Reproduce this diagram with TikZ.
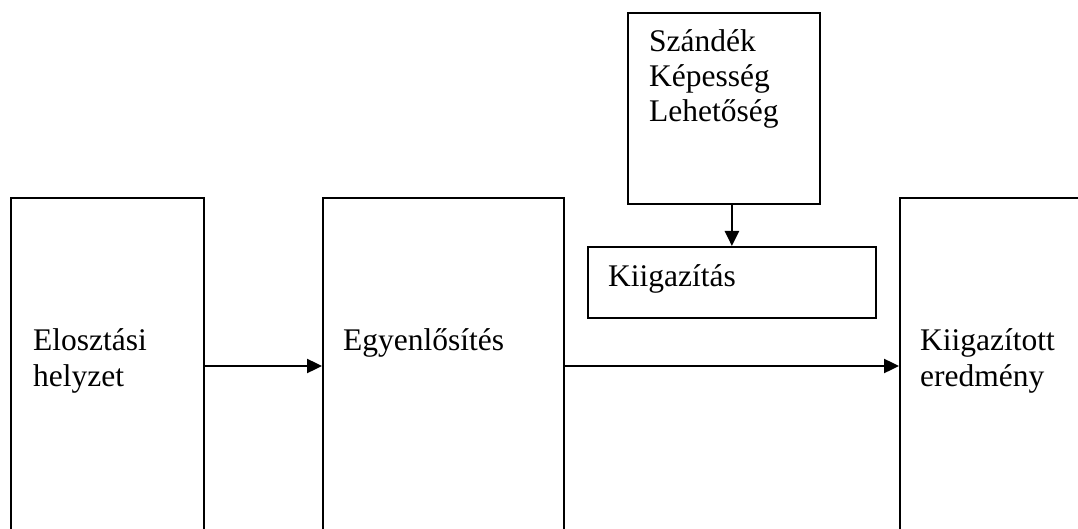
\documentclass[tikz,border=0pt]{standalone}
\usepackage{fontspec}
\setmainfont{Liberation Serif}
\usetikzlibrary{arrows.meta}
\tikzset{
  box/.style={draw=black, line width=1.8pt, inner sep=0pt, anchor=north west},
  lbl/.style={inner sep=0pt, anchor=base west, font=\fontsize{31.5}{35}\selectfont},
  arr/.style={line width=2.4pt, -{Triangle[length=15pt,width=14pt]}}
}
\begin{document}
\begin{tikzpicture}[x=1pt,y=-1pt]
\useasboundingbox (0,0) rectangle (1078,529);
\clip (0,0) rectangle (1078,529);
% boxes
\node[box, minimum width=193pt, minimum height=363pt] (b1) at (10,197) {};
\node[box, minimum width=241pt, minimum height=363pt] (b2) at (322,197) {};
\node[box, minimum width=200pt, minimum height=363pt] (b5) at (899,197) {};
\node[box, minimum width=192pt, minimum height=191pt] (top) at (627,12) {};
\node[box, minimum width=288pt, minimum height=71pt] (kiig) at (587,246) {};
% texts
\node[lbl] (t1a) at (33,350) {Elosztási};
\node[lbl] (t1b) at (33,386) {helyzet};
\node[lbl] (t2) at (343,350) {Egyenlősítés};
\node[lbl] (t5a) at (920,350) {Kiigazított};
\node[lbl] (t5b) at (920,386) {eredmény};
\node[lbl] (tta) at (649,52) {Szándék};
\node[lbl] (ttb) at (649,87) {Képesség};
\node[lbl] (ttc) at (649,122) {Lehetőség};
\node[lbl] (tk) at (608,287) {Kiigazítás};
% connectors
\coordinate (a1) at (b1.east |- 0,366);
\draw[arr] (a1) -- (a1 -| b2.west);
\coordinate (a2) at (b2.east |- 0,366);
\draw[arr] (a2) -- (a2 -| b5.west);
\draw[arr] (top.south -| kiig.north) -- (kiig.north);
\end{tikzpicture}
\end{document}
